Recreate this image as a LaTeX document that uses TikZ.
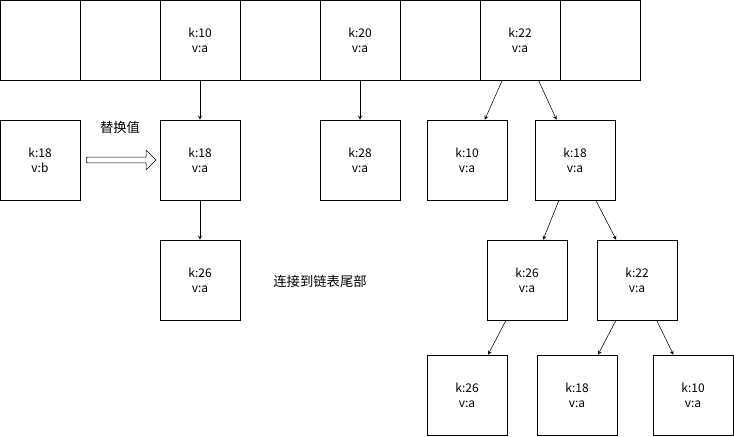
\documentclass[tikz,border=0pt]{standalone}
\usepackage{fontspec}
\setmainfont{Noto Sans CJK SC}
\usetikzlibrary{positioning}
\usetikzlibrary{shapes.arrows}

\begin{document}
\begin{tikzpicture}[x=0.75pt,y=-0.75pt,
    cell/.style={draw, minimum width=60pt, minimum height=60pt, inner sep=0pt,
                 align=center, font=\fontsize{9}{11}\selectfont},
    link/.style={-stealth}]
        \useasboundingbox (0,0) rectangle (734,436);
        % ligne du tableau
        \foreach \i in {0,...,7} {
            \node[cell] (t\i) at (40+\i*80, 40) {};
        }
        \node[font=\fontsize{9}{11}\selectfont, align=center] at (t2) {k:10\\v:a};
        \node[font=\fontsize{9}{11}\selectfont, align=center] at (t4) {k:20\\v:a};
        \node[font=\fontsize{9}{11}\selectfont, align=center] at (t6) {k:22\\v:a};

        % liste chainee
        \node[cell] (new) at (40,160) {k:18\\v:b};
        \node[cell] (a1) at (200,160) {k:18\\v:a};
        \node[cell] (a2) at (200,280) {k:26\\v:a};
        \node[cell] (b1) at (360,160) {k:28\\v:a};

        % arbre
        \node[cell] (c1) at (467,160) {k:10\\v:a};
        \node[cell] (c2) at (575,160) {k:18\\v:a};
        \node[cell] (c3) at (527,280) {k:26\\v:a};
        \node[cell] (c4) at (637,280) {k:22\\v:a};
        \node[cell] (c5) at (467,395) {k:26\\v:a};
        \node[cell] (c6) at (577,395) {k:18\\v:a};
        \node[cell] (c7) at (693,395) {k:10\\v:a};

        \draw[link] (t2) -- (a1);
        \draw[link] (a1) -- (a2);
        \draw[link] (t4) -- (b1);
        \draw[link] (t6) -- (c1);
        \draw[link] (t6) -- (c2);
        \draw[link] (c2) -- (c3);
        \draw[link] (c2) -- (c4);
        \draw[link] (c3) -- (c5);
        \draw[link] (c4) -- (c6);
        \draw[link] (c4) -- (c7);

        \node[single arrow, draw, minimum width=15pt, minimum height=52pt,
              single arrow head extend=3pt, inner sep=1pt] (rep) at (120,160) {};
        \node[font=\fontsize{10}{12}\selectfont] (repl) at (120,127) {替换值};
        \node[font=\fontsize{10}{12}\selectfont] (tail) at (320,281) {连接到链表尾部};
\end{tikzpicture}
\end{document}
